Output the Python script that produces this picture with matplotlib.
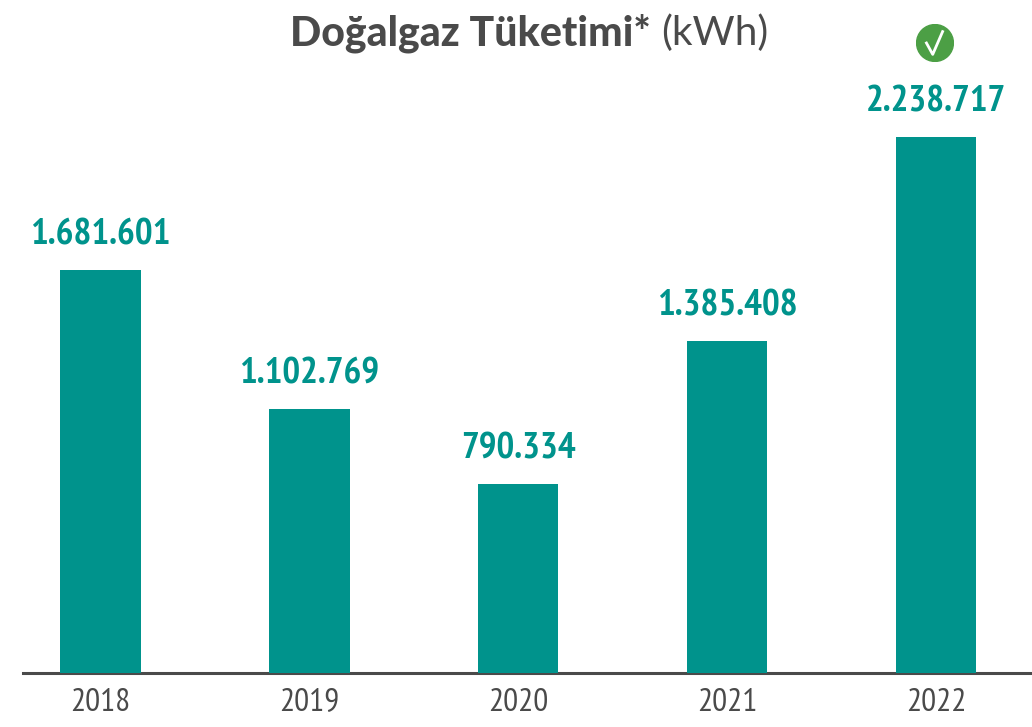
"""Dogalgaz tuketimi bar chart."""

import matplotlib
matplotlib.use("Agg")
import matplotlib.pyplot as plt

years = ["2018", "2019", "2020", "2021", "2022"]
values = [1681601, 1102769, 790334, 1385408, 2238717]
value_labels = ["1.681.601", "1.102.769", "790.334", "1.385.408", "2.238.717"]

TEAL = "#00938c"
DARK = "#4a4a4a"
NARROW = ["PT Sans Narrow", "Roboto Condensed", "DejaVu Sans"]
TITLE = ["Lato", "DejaVu Sans"]

W, H = 1032, 727
fig = plt.figure(figsize=(W / 100, H / 100), dpi=100)
fig.patch.set_facecolor("white")

# axes spans from the left end of the baseline to the right edge
ax = fig.add_axes([23 / W, 1 - 673 / H, (W - 23) / W, 573 / H])
ax.set_ylim(0, 2238717 * 573 / 536)
ax.set_xlim(-0.37, 4.46)

ax.bar(range(5), values, width=0.386, color=TEAL, zorder=3)
for i, (v, lab) in enumerate(zip(values, value_labels)):
    ax.annotate(lab, (i, v), xytext=(0, 13.5), textcoords="offset points",
                ha="center", va="bottom", color=TEAL, fontsize=26.8,
                fontweight="bold", family=NARROW)

ax.set_xticks(range(5), years)
ax.tick_params(axis="x", length=0, pad=11, labelsize=24, labelcolor=DARK)
ax.set_yticks([])
for s in ["top", "left", "right"]:
    ax.spines[s].set_visible(False)
ax.spines["bottom"].set_color(DARK)
ax.spines["bottom"].set_linewidth(2.2)
for t in ax.get_xticklabels():
    t.set_family(NARROW)

fig.text(290 / W, 1 - 33 / H, "Doğalgaz Tüketimi*", ha="left", va="center",
         fontsize=29.5, fontweight="black", color=DARK, family=TITLE)
fig.text(661 / W, 1 - 33 / H, "(kWh)", ha="left", va="center",
         fontsize=29.3, fontweight="normal", color=DARK, family=TITLE)

# green check badge above 2022
badge = fig.add_axes([916 / W, 1 - 62 / H, 38 / W, 38 / H])
badge.set_xlim(-1, 1)
badge.set_ylim(-1, 1)
badge.axis("off")
badge.add_patch(plt.Circle((0, 0), 0.97, color="#4c9f45"))
badge.plot([-0.45, -0.12, 0.4], [0.0, -0.6, 0.6], color="white", lw=2)

fig.savefig("out.png", dpi=100)
